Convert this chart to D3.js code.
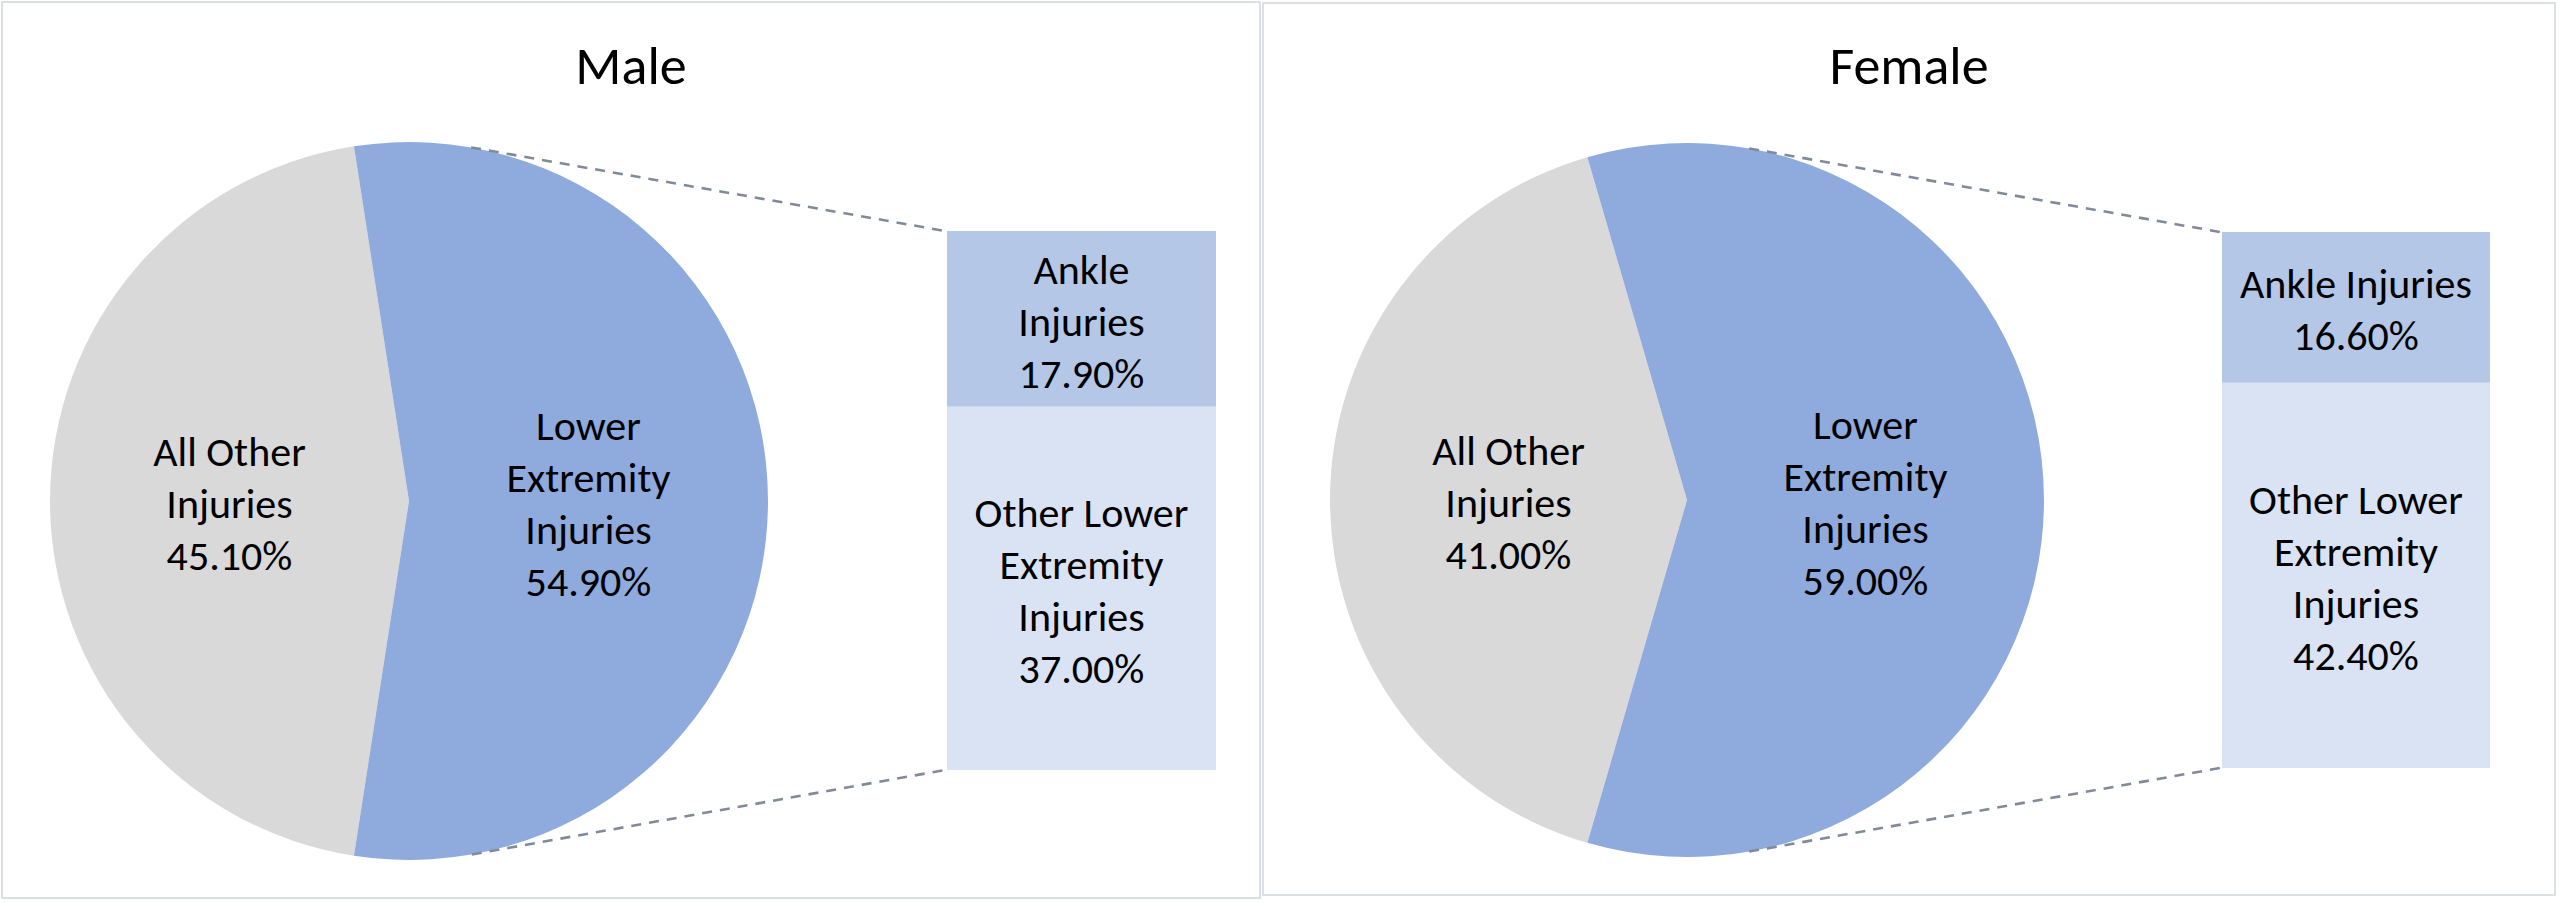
<!DOCTYPE html>
<html>
<head>
<meta charset="utf-8">
<script src="https://cdn.jsdelivr.net/npm/d3@7"></script>
<style>
	body { margin: 0; background: #fff; }
	text { font-family: Carlito, Calibri, Lato, sans-serif; fill: #000; }
</style>
</head>
<body>
<svg id="chart"></svg>
<script>
// data
const panelTitles = ['Male', 'Female'];
const mainCategories = ['All Other\nInjuries', 'Lower\nExtremity\nInjuries'];
const maleMain = [45.1, 54.9];
const femaleMain = [41.0, 59.0];
const maleSubCategories = ['Ankle\nInjuries', 'Other Lower\nExtremity\nInjuries'];
const femaleSubCategories = ['Ankle Injuries', 'Other Lower\nExtremity\nInjuries'];
const maleSub = [17.9, 37.0];
const femaleSub = [16.6, 42.4];

const width = 2560,
	height = 903,
	lineGap = 52;
const mainColors = [ '#d9d9d9', '#8faadc' ],
	subColors = [ '#b4c7e7', '#dae3f3' ];

const svg = d3.select('#chart').attr('width', width).attr('height', height);

// layout of the two panels
const panels = [
	{ title: panelTitles[0], main: maleMain, sub: maleSub, subCats: maleSubCategories,
		x0: 2, x1: 1260, y0: 2, y1: 898, cx: 409, cy: 501, r: 359, bx0: 947, bx1: 1216, by0: 231, by1: 770 },
	{ title: panelTitles[1], main: femaleMain, sub: femaleSub, subCats: femaleSubCategories,
		x0: 1263, x1: 2555, y0: 3, y1: 895, cx: 1687, cy: 500, r: 357, bx0: 2222, bx1: 2490, by0: 232, by1: 768 }
];

const fmt = (v) => v.toFixed(2) + '%';

function multiline(sel, lines, x, y) {
	sel
		.selectAll('text.l')
		.data(lines)
		.enter()
		.append('text')
		.attr('class', 'l')
		.attr('x', x)
		.attr('y', (d, i) => y + (i - (lines.length - 1) / 2) * lineGap)
		.attr('dy', '0.35em')
		.attr('text-anchor', 'middle')
		.attr('font-size', 42)
		.text((d) => d);
}

panels.forEach((p) => {
	let g = svg.append('g');

	g
		.append('rect')
		.attr('x', p.x0)
		.attr('y', p.y0)
		.attr('width', p.x1 - p.x0)
		.attr('height', p.y1 - p.y0)
		.attr('fill', '#fff')
		.attr('stroke', '#dcdfe3')
		.attr('stroke-width', 2);

	g
		.append('text')
		.attr('x', (p.x0 + p.x1) / 2)
		.attr('y', 65)
		.attr('dy', '0.36em')
		.attr('text-anchor', 'middle')
		.attr('font-size', 54)
		.text(p.title);

	// pie: the split slice is centred on the right-hand side
	let total = d3.sum(p.main);
	let lowerAngle = 2 * Math.PI * p.main[1] / total;
	let start = Math.PI / 2 - lowerAngle / 2 - 2 * Math.PI * p.main[0] / total;
	let pie = d3.pie().sort(null).startAngle(start).endAngle(start + 2 * Math.PI);
	let arc = d3.arc().innerRadius(0).outerRadius(p.r);
	let arcs = pie(p.main);

	let pieG = g.append('g').attr('transform', 'translate(' + p.cx + ',' + p.cy + ')');
	pieG
		.selectAll('path')
		.data(arcs)
		.enter()
		.append('path')
		.attr('d', arc)
		.attr('fill', (d, i) => mainColors[i]);

	arcs.forEach((a, i) => {
		let c = arc.centroid(a);
		let lines = mainCategories[i].split('\n').concat([ fmt(p.main[i]) ]);
		multiline(pieG.append('g'), lines, c[0], c[1] + 2);
	});

	// stacked box for the split slice
	let yScale = d3.scaleLinear().domain([ 0, d3.sum(p.sub) ]).range([ p.by0, p.by1 ]);
	let stacked = d3.cumsum(p.sub);
	let boxes = p.sub.map((v, i) => ({ v: v, lo: stacked[i] - v, hi: stacked[i], i: i }));

	g
		.selectAll('rect.box')
		.data(boxes)
		.enter()
		.append('rect')
		.attr('class', 'box')
		.attr('x', p.bx0)
		.attr('width', p.bx1 - p.bx0)
		.attr('y', (d) => yScale(d.lo))
		.attr('height', (d) => yScale(d.hi) - yScale(d.lo))
		.attr('fill', (d) => subColors[d.i]);

	boxes.forEach((d) => {
		let lines = p.subCats[d.i].split('\n').concat([ fmt(d.v) ]);
		multiline(g.append('g'), lines, (p.bx0 + p.bx1) / 2, (yScale(d.lo) + yScale(d.hi)) / 2 + 2);
	});

	// dashed connectors: tangents from the box corners to the pie
	[ [ p.by0, -1 ], [ p.by1, 1 ] ].forEach(([ by, side ]) => {
		let dx = p.bx0 - p.cx,
			dy = by - p.cy;
		let dist = Math.hypot(dx, dy);
		let t = Math.atan2(dy, dx) + side * Math.acos(p.r / dist);
		g
			.append('line')
			.attr('x1', p.cx + p.r * Math.cos(t))
			.attr('y1', p.cy + p.r * Math.sin(t))
			.attr('x2', p.bx0 - 2)
			.attr('y2', by)
			.attr('stroke', '#808a98')
			.attr('stroke-width', 2.6)
			.attr('stroke-dasharray', '10,8');
	});
});
</script>
</body>
</html>
